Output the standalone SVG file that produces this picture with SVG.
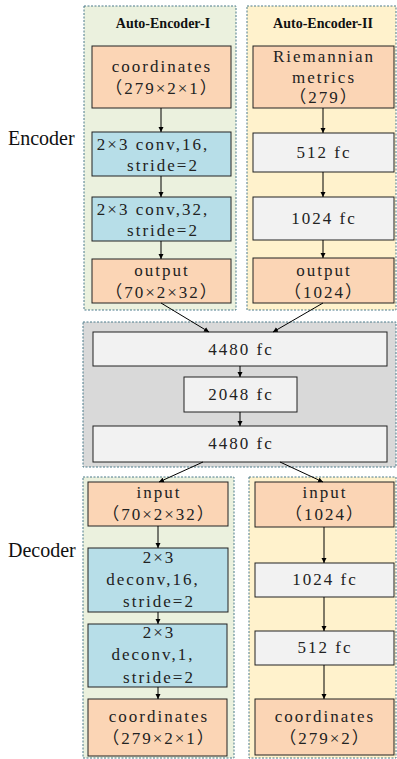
<svg xmlns="http://www.w3.org/2000/svg" width="397" height="759" viewBox="0 0 397 759">
<defs>
<marker id="ah" markerWidth="6" markerHeight="6" refX="5" refY="3" orient="auto" markerUnits="userSpaceOnUse">
<path d="M0,0.5 L5,3 L0,5.5 Z" fill="#000"/>
</marker>
<style>
.grp{stroke:#4a7a8a;stroke-width:1;stroke-dasharray:2,1.5}
.g1{fill:#ebf1de}
.g2{fill:#fff2cc}
.g3{fill:#d9d9d9}
.box{stroke:#222;stroke-width:1}
.or{fill:#fbd5b5}
.bl{fill:#b7dee8}
.gr{fill:#f2f2f2}
.t{font-family:"Liberation Serif","Noto Sans CJK SC",serif;font-size:17px;letter-spacing:2px;fill:#222;text-anchor:middle}
.h{font-family:"Liberation Serif",serif;font-size:14px;font-weight:bold;fill:#111;text-anchor:middle}
.lab{font-family:"Liberation Serif",serif;font-size:20px;fill:#111}
.c{stroke:#000;stroke-width:1;fill:none;marker-end:url(#ah)}
</style>
</defs>
<rect width="397" height="759" fill="#fff"/>

<g id="containers">
<rect class="grp g1" x="84" y="6" width="152" height="304"/>
<rect class="grp g2" x="247" y="6" width="149" height="304"/>
<rect class="grp g3" x="83" y="322" width="313" height="145"/>
<rect class="grp g1" x="83" y="477" width="151" height="281"/>
<rect class="grp g2" x="249" y="477" width="147" height="281"/>
</g>

<g id="labels">
<text class="lab" x="8" y="145">Encoder</text>
<text class="lab" x="8" y="557">Decoder</text>
<text class="h" x="163" y="28">Auto-Encoder-I</text>
<text class="h" x="323" y="28">Auto-Encoder-II</text>
</g>

<g id="e1-coords"><rect class="box or" x="92" y="46" width="139" height="62"/>
<text class="t" x="162" y="72">coordinates</text><text class="t" x="162" y="94">（279×2×1）</text></g>
<g id="e1-conv16"><rect class="box bl" x="92" y="132" width="139" height="44"/>
<text class="t" x="153" y="150">2×3 conv,16,</text><text class="t" x="163" y="171">stride=2</text></g>
<g id="e1-conv32"><rect class="box bl" x="92" y="197" width="139" height="44"/>
<text class="t" x="153" y="215">2×3 conv,32,</text><text class="t" x="163" y="236">stride=2</text></g>
<g id="e1-output"><rect class="box or" x="92" y="259" width="139" height="44"/>
<text class="t" x="162" y="276">output</text><text class="t" x="162" y="298">（70×2×32）</text></g>

<g id="e2-riem"><rect class="box or" x="253" y="46" width="141" height="62"/>
<text class="t" x="324" y="62">Riemannian</text><text class="t" x="324" y="83">metrics</text><text class="t" x="324" y="103">（279）</text></g>
<g id="e2-512"><rect class="box gr" x="253" y="133" width="141" height="39"/>
<text class="t" x="324" y="158">512 fc</text></g>
<g id="e2-1024"><rect class="box gr" x="253" y="197" width="141" height="43"/>
<text class="t" x="324" y="224">1024 fc</text></g>
<g id="e2-output"><rect class="box or" x="253" y="258" width="141" height="45"/>
<text class="t" x="324" y="276">output</text><text class="t" x="324" y="298">（1024）</text></g>

<g id="m-4480a"><rect class="box gr" x="93" y="332" width="294" height="34"/>
<text class="t" x="241" y="355">4480 fc</text></g>
<g id="m-2048"><rect class="box gr" x="184" y="377" width="113" height="35"/>
<text class="t" x="241" y="400">2048 fc</text></g>
<g id="m-4480b"><rect class="box gr" x="93" y="426" width="294" height="36"/>
<text class="t" x="241" y="449">4480 fc</text></g>

<g id="d1-input"><rect class="box or" x="88" y="482" width="140" height="44"/>
<text class="t" x="159" y="498">input</text><text class="t" x="159" y="520">（70×2×32）</text></g>
<g id="d1-deconv16"><rect class="box bl" x="88" y="548" width="140" height="64"/>
<text class="t" x="159" y="563">2×3</text><text class="t" x="153" y="585">deconv,16,</text><text class="t" x="159" y="607">stride=2</text></g>
<g id="d1-deconv1"><rect class="box bl" x="88" y="624" width="139" height="63"/>
<text class="t" x="159" y="638">2×3</text><text class="t" x="153" y="660">deconv,1,</text><text class="t" x="159" y="683">stride=2</text></g>
<g id="d1-coords"><rect class="box or" x="88" y="699" width="139" height="57"/>
<text class="t" x="159" y="722">coordinates</text><text class="t" x="159" y="744">（279×2×1）</text></g>

<g id="d2-input"><rect class="box or" x="255" y="482" width="139" height="45"/>
<text class="t" x="325" y="498">input</text><text class="t" x="325" y="520">（1024）</text></g>
<g id="d2-1024"><rect class="box gr" x="255" y="563" width="139" height="34"/>
<text class="t" x="325" y="585">1024 fc</text></g>
<g id="d2-512"><rect class="box gr" x="255" y="631" width="139" height="34"/>
<text class="t" x="325" y="653">512 fc</text></g>
<g id="d2-coords"><rect class="box or" x="255" y="699" width="139" height="56"/>
<text class="t" x="325" y="722">coordinates</text><text class="t" x="325" y="744">（279×2）</text></g>

<g id="connectors">
<line class="c" x1="161" y1="108" x2="161" y2="132"/>
<line class="c" x1="161" y1="176" x2="161" y2="197"/>
<line class="c" x1="161" y1="241" x2="161" y2="259"/>
<line class="c" x1="323" y1="108" x2="323" y2="133"/>
<line class="c" x1="323" y1="172" x2="323" y2="197"/>
<line class="c" x1="323" y1="240" x2="323" y2="258"/>
<line class="c" x1="161" y1="303" x2="209" y2="332"/>
<line class="c" x1="323" y1="303" x2="273" y2="332"/>
<line class="c" x1="240" y1="366" x2="240" y2="377"/>
<line class="c" x1="240" y1="412" x2="240" y2="426"/>
<line class="c" x1="203" y1="462" x2="159" y2="482"/>
<line class="c" x1="280" y1="462" x2="323" y2="482"/>
<line class="c" x1="158" y1="526" x2="158" y2="548"/>
<line class="c" x1="158" y1="612" x2="158" y2="624"/>
<line class="c" x1="158" y1="687" x2="158" y2="699"/>
<line class="c" x1="324" y1="527" x2="324" y2="563"/>
<line class="c" x1="324" y1="597" x2="324" y2="631"/>
<line class="c" x1="324" y1="665" x2="324" y2="699"/>
</g>
</svg>
